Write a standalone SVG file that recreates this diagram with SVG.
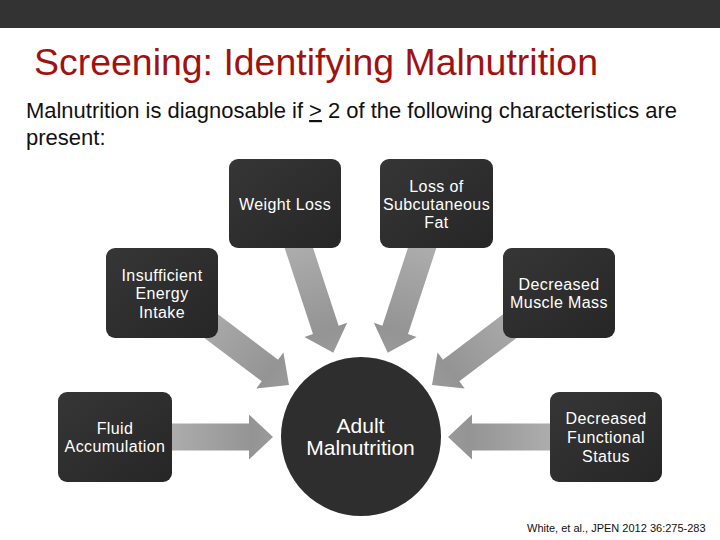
<svg xmlns="http://www.w3.org/2000/svg" width="720" height="540" viewBox="0 0 720 540">
<defs>
<linearGradient id="gArrow" x1="0" y1="0" x2="1" y2="0">
<stop offset="0" stop-color="#adadad"/>
<stop offset="0.8" stop-color="#949494"/>
<stop offset="1" stop-color="#9a9a9a"/>
</linearGradient>
<linearGradient id="gBox" x1="0" y1="0" x2="1" y2="1">
<stop offset="0" stop-color="#363636"/>
<stop offset="1" stop-color="#262626"/>
</linearGradient>
<style>
.bar{fill:#333333}
.title{font-family:"Liberation Sans",Arial,sans-serif;font-size:37px;fill:#a01212}
.body{font-family:"Liberation Sans",Arial,sans-serif;font-size:22px;fill:#111111}
.box{fill:url(#gBox)}
.circ{fill:#2e2e2e}
.arrow{fill:url(#gArrow)}
.nt{font-family:"Liberation Sans",Arial,sans-serif;font-size:16px;fill:#ffffff;text-anchor:middle;letter-spacing:0.4px}
.ct{font-family:"Liberation Sans",Arial,sans-serif;font-size:21px;fill:#ffffff;text-anchor:middle}
.foot{font-family:"Liberation Sans",Arial,sans-serif;font-size:11px;fill:#111111}
</style>
</defs>
<rect x="0" y="0" width="720" height="540" fill="#ffffff"/>
<rect class="bar" x="0" y="0" width="720" height="28"/>
<text class="title" x="34" y="75" textLength="564" lengthAdjust="spacingAndGlyphs">Screening: Identifying Malnutrition</text>
<text class="body" x="26" y="118" textLength="651" lengthAdjust="spacingAndGlyphs">Malnutrition is diagnosable if <tspan text-decoration="underline">&gt;</tspan> 2 of the following characteristics are</text>
<text class="body" x="26" y="145">present:</text>

<g id="connectors">
<path class="arrow" transform="translate(333.3,352.7) rotate(71.8)" d="M-115,-13.5 H-24 V-22.5 L0,0 L-24,22.5 V13.5 H-115 Z"/>
<path class="arrow" transform="translate(387.7,352.7) rotate(108.2)" d="M-115,-13.5 H-24 V-22.5 L0,0 L-24,22.5 V13.5 H-115 Z"/>
<path class="arrow" transform="translate(289,385) rotate(37.1)" d="M-115,-13.5 H-24 V-22.5 L0,0 L-24,22.5 V13.5 H-115 Z"/>
<path class="arrow" transform="translate(432,385) rotate(142.9)" d="M-115,-13.5 H-24 V-22.5 L0,0 L-24,22.5 V13.5 H-115 Z"/>
<path class="arrow" transform="translate(273,437)" d="M-103,-13.5 H-24 V-22.5 L0,0 L-24,22.5 V13.5 H-103 Z"/>
<path class="arrow" transform="translate(448,437) rotate(180)" d="M-103,-13.5 H-24 V-22.5 L0,0 L-24,22.5 V13.5 H-103 Z"/>
</g>

<g id="weight-loss">
<rect class="box" x="229" y="159" width="112" height="89" rx="9"/>
<text class="nt" x="285" y="210">Weight Loss</text>
</g>
<g id="subcutaneous-fat">
<rect class="box" x="380" y="159" width="113" height="89" rx="9"/>
<text class="nt" x="436.5" y="192">Loss of</text>
<text class="nt" x="436.5" y="210">Subcutaneous</text>
<text class="nt" x="436.5" y="228">Fat</text>
</g>
<g id="energy-intake">
<rect class="box" x="106" y="248" width="112" height="90" rx="9"/>
<text class="nt" x="162" y="280.5">Insufficient</text>
<text class="nt" x="162" y="299">Energy</text>
<text class="nt" x="162" y="317.5">Intake</text>
</g>
<g id="muscle-mass">
<rect class="box" x="503" y="248" width="112" height="90" rx="9"/>
<text class="nt" x="559" y="290">Decreased</text>
<text class="nt" x="559" y="308">Muscle Mass</text>
</g>
<g id="fluid-accumulation">
<rect class="box" x="58" y="392" width="114" height="90" rx="9"/>
<text class="nt" x="115" y="433.5">Fluid</text>
<text class="nt" x="115" y="451.5">Accumulation</text>
</g>
<g id="functional-status">
<rect class="box" x="550" y="392" width="112" height="90" rx="9"/>
<text class="nt" x="606" y="424">Decreased</text>
<text class="nt" x="606" y="443">Functional</text>
<text class="nt" x="606" y="461.5">Status</text>
</g>
<g id="adult-malnutrition">
<ellipse class="circ" cx="361" cy="436.5" rx="80" ry="79.5"/>
<text class="ct" x="360.5" y="433">Adult</text>
<text class="ct" x="360.5" y="455">Malnutrition</text>
</g>

<text class="foot" x="527" y="532">White, et al., JPEN 2012 36:275-283</text>
</svg>
